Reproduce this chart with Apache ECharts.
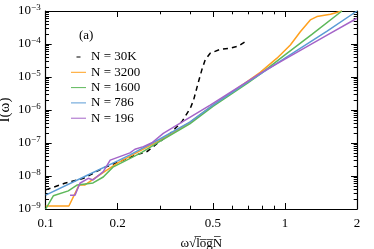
<!DOCTYPE html>
<html>
<head>
<meta charset="utf-8">
<script src="https://cdn.jsdelivr.net/npm/echarts@6/dist/echarts.min.js"></script>
<style>html,body{margin:0;padding:0;background:#fff}#c{width:374px;height:249px}</style>
</head>
<body>
<div id="c"></div>
<script>
// ---- data ----
const seriesNames = ['N = 30K', 'N = 3200', 'N = 1600', 'N = 786', 'N = 196'];

const x30K = [0.1, 0.12, 0.144, 0.174, 0.24, 0.265, 0.3, 0.331, 0.371, 0.402, 0.415, 0.435, 0.449, 0.464, 0.487, 0.536, 0.59, 0.64, 0.693];
const y30K = [3.8e-9, 6.0e-9, 8.5e-9, 1.74e-8, 4.4e-8, 5.5e-8, 1.12e-7, 1.91e-7, 4.47e-7, 1.12e-6, 2.0e-6, 7.2e-6, 1.62e-5, 3.3e-5, 5.25e-5, 6.9e-5, 7.4e-5, 8.7e-5, 1.26e-4];

const x3200 = [0.1, 0.125, 0.138, 0.146, 0.161, 0.2, 0.25, 0.3, 0.4, 0.5, 0.676, 0.788, 0.926, 1.053, 1.159, 1.276, 1.36, 1.55, 1.73];
const y3200 = [1.23e-9, 1.23e-9, 5.37e-9, 5.37e-9, 8.71e-9, 2.51e-8, 6.0e-8, 1.2e-7, 4.17e-7, 1.41e-6, 6.31e-6, 1.38e-5, 3.72e-5, 9.33e-5, 2.34e-4, 5.37e-4, 6.76e-4, 7.94e-4, 1.0e-3];

const x1600 = [0.1, 0.1076, 0.1243, 0.1356, 0.1577, 0.174, 0.191, 0.25, 0.3, 0.4, 0.5, 0.7, 0.788, 1.0, 1.3, 1.73];
const y1600 = [1.0e-9, 2.51e-9, 3.55e-9, 5.37e-9, 6.17e-9, 9.33e-9, 1.86e-8, 5.0e-8, 1.12e-7, 3.8e-7, 1.29e-6, 6.61e-6, 1.23e-5, 4.68e-5, 2.0e-4, 1.0e-3];

const x786 = [0.1, 0.15, 0.2, 0.225, 0.3, 0.4, 0.5, 0.7, 0.788, 1.0, 1.5, 2.0];
const y786 = [2.63e-9, 1.07e-8, 2.88e-8, 4.37e-8, 1.32e-7, 4.27e-7, 1.41e-6, 7.08e-6, 1.23e-5, 3.72e-5, 2.45e-4, 1.0e-3];

const x196 = [0.1264, 0.1326, 0.139, 0.1507, 0.1577, 0.174, 0.186, 0.225, 0.236, 0.256, 0.278, 0.31, 0.365, 0.487, 0.788, 1.0, 1.5, 2.0];
const y196 = [2.63e-9, 2.63e-9, 6.03e-9, 8.51e-9, 7.59e-9, 1.35e-8, 3.02e-8, 5.01e-8, 6.46e-8, 7.76e-8, 1.02e-7, 1.95e-7, 3.98e-7, 1.41e-6, 1.29e-5, 3.47e-5, 1.86e-4, 6.03e-4];

// tick labels
const xMajorTicks = [0.1, 0.2, 0.5, 1, 2];
const xMinorTicks = [0.3, 0.4, 0.6, 0.7, 0.8, 0.9];
const yDecades = [-9, -8, -7, -6, -5, -4, -3];
const yMinorMult = [2, 3, 4, 5, 6, 7, 8, 9];

// ---- build ----
const FONT = 'Liberation Serif';
const colors = ['#000000', '#FFA01E', '#5DB85A', '#5A9BD5', '#A464C8'];
const xs = [x30K, x3200, x1600, x786, x196];
const ys = [y30K, y3200, y1600, y786, y196];

const xMin = Math.log10(xMajorTicks[0]), xMax = Math.log10(xMajorTicks[xMajorTicks.length - 1]);
const xMajLog = xMajorTicks.map(v => Math.log10(v));
const xMinLog = xMinorTicks.map(v => Math.log10(v));
const yMajLog = yDecades.slice();
const yMinLog = [];
yDecades.slice(0, -1).forEach(d => yMinorMult.forEach(k => yMinLog.push(d + Math.log10(k))));

function tickAxis(kind, pos, major, withLabel, withLine) {
  const isX = kind === 'x';
  const ax = {
    type: 'value', gridIndex: 0, position: pos,
    min: isX ? xMin : yDecades[0], max: isX ? xMax : yDecades[yDecades.length - 1],
    splitLine: { show: false },
    axisLine: { show: withLine, onZero: false, lineStyle: { color: '#000', width: 1.2 } },
    axisTick: { show: true, inside: true, length: major ? 6 : 3.3,
      customValues: isX ? (major ? xMajLog : xMinLog) : (major ? yMajLog : yMinLog),
      lineStyle: { color: '#000', width: 1 } },
    axisLabel: { show: withLabel }
  };
  if (withLabel) {
    if (isX) {
      ax.axisLabel = { show: true, customValues: xMajLog, margin: 8.5, color: '#000',
        fontFamily: FONT, fontSize: 13,
        formatter: v => String(Math.round(Math.pow(10, v) * 10) / 10) };
    } else {
      ax.axisLabel = { show: true, customValues: yMajLog, margin: 5, color: '#000',
        fontFamily: FONT,
        formatter: v => '{b|10}{s|\u2212' + Math.abs(Math.round(v)) + '}',
        rich: {
          b: { fontFamily: FONT, fontSize: 13, lineHeight: 15, color: '#000', verticalAlign: 'middle' },
          s: { fontFamily: FONT, fontSize: 9, lineHeight: 9, color: '#000', verticalAlign: 'top' }
        } };
    }
  }
  return ax;
}

const xAxes = [
  { type: 'log', logBase: 10, min: 0.1, max: 2, gridIndex: 0, show: false },
  Object.assign(tickAxis('x', 'bottom', true, true, true), {
    name: '\u03c9\u221al\u0305o\u0305g\u0305N\u0305', nameLocation: 'middle', nameGap: 28, nameMoveOverlap: false,
    nameTextStyle: { fontFamily: FONT, fontSize: 13, color: '#000' } }),
  tickAxis('x', 'bottom', false, false, false),
  tickAxis('x', 'top', true, false, true),
  tickAxis('x', 'top', false, false, false)
];
const yAxes = [
  { type: 'log', logBase: 10, min: 1e-9, max: 1e-3, gridIndex: 0, show: false },
  Object.assign(tickAxis('y', 'left', true, true, true), {
    name: 'I(\u03c9)', nameLocation: 'middle', nameGap: 33, nameMoveOverlap: false,
    nameTextStyle: { fontFamily: FONT, fontSize: 15, color: '#000' } }),
  tickAxis('y', 'left', false, false, false),
  tickAxis('y', 'right', true, false, true),
  tickAxis('y', 'right', false, false, false)
];

const series = seriesNames.map((name, i) => ({
  name, type: 'line', xAxisIndex: 0, yAxisIndex: 0,
  data: xs[i].map((x, j) => [x, ys[i][j]]),
  showSymbol: false, symbol: 'none', smooth: false, animation: false,
  lineStyle: { color: colors[i], width: 1.5, type: i === 0 ? [5, 4] : 'solid' },
  itemStyle: { color: colors[i] }
}));

const solidIcon = 'path://M0,0H15V1H0Z';
const dashIcon = 'path://M0,0H0.01V1H0Z M14.99,0H15V1H14.99Z M5.5,0H9.5V1H5.5Z';

const chart = echarts.init(document.getElementById('c'), null, { renderer: 'canvas' });
chart.setOption({
  animation: false,
  backgroundColor: '#fff',
  title: { text: '(a)', left: 79, top: 29, padding: 0, textStyle: { fontFamily: FONT, fontSize: 13, fontWeight: 'normal', color: '#000' } },
  legend: {
    left: 71, top: 50, padding: 0, orient: 'vertical', itemWidth: 15, itemHeight: 2, itemGap: 1.3,
    textStyle: { fontFamily: FONT, fontSize: 13, color: '#000', lineHeight: 14 },
    data: seriesNames.map((n, i) => ({ name: n, icon: i === 0 ? dashIcon : solidIcon }))
  },
  grid: { left: 45.7, right: 17, top: 11, bottom: 40, containLabel: false, outerBoundsMode: 'none' },
  xAxis: xAxes,
  yAxis: yAxes,
  series
});
</script>
</body>
</html>
